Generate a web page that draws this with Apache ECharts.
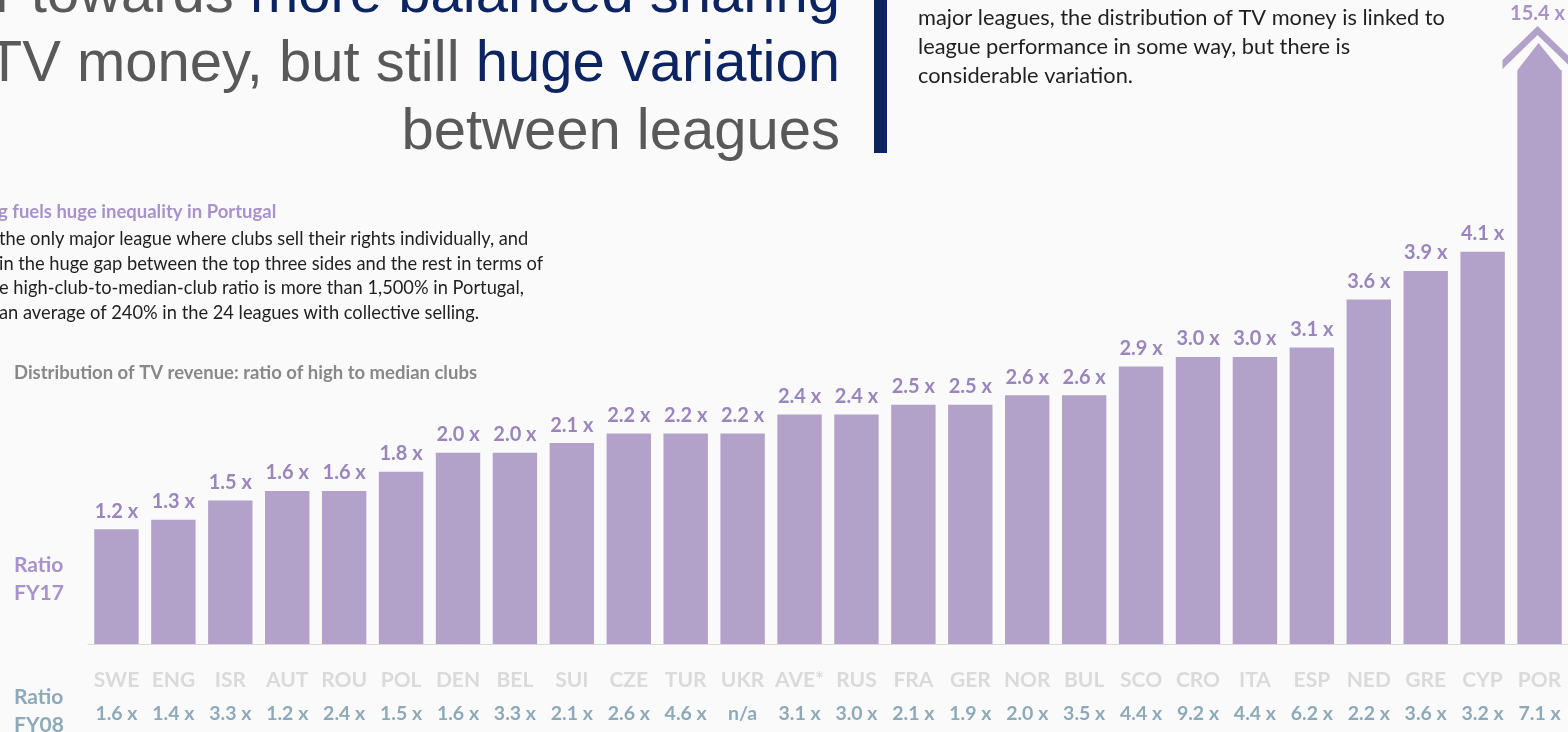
<!DOCTYPE html>
<html>
<head>
<meta charset="utf-8">
<script src="https://cdn.jsdelivr.net/npm/echarts@6/dist/echarts.min.js"></script>
<style>
html,body{margin:0;padding:0;background:#fafafa;}
#chart{width:1568px;height:732px;}
</style>
</head>
<body>
<div id="chart"></div>
<script>
// ---- data ----
const categories = ['SWE','ENG','ISR','AUT','ROU','POL','DEN','BEL','SUI','CZE','TUR','UKR','AVE*','RUS','FRA','GER','NOR','BUL','SCO','CRO','ITA','ESP','NED','GRE','CYP','POR'];
const ratioFY17 = [1.2,1.3,1.5,1.6,1.6,1.8,2.0,2.0,2.1,2.2,2.2,2.2,2.4,2.4,2.5,2.5,2.6,2.6,2.9,3.0,3.0,3.1,3.6,3.9,4.1,15.4];
const ratioFY08 = [1.6,1.4,3.3,1.2,2.4,1.5,1.6,3.3,2.1,2.6,4.6,null,3.1,3.0,2.1,1.9,2.0,3.5,4.4,9.2,4.4,6.2,2.2,3.6,3.2,7.1];
const axisMax = 6;

// ---- styles ----
const BAR = '#b2a1c8';
const BAR_LABEL = '#9a85bd';
const FY17_LABEL = '#a892c9';
const FY08_COLOR = '#8ea9b8';
const NAVY = '#0c2461';
const GREY_TITLE = '#595959';

const chart = echarts.init(document.getElementById('chart'), null, {renderer: 'canvas'});

const fmt = v => (v === null || v === undefined) ? 'n/a' : v.toFixed(1) + ' x';

const barData = ratioFY17.map(v => v > axisMax ? {value: v, label: {show: false}} : v);
const overIdx = ratioFY17.findIndex(v => v > axisMax);

// arrow: chevron + pointed bar top
const arrowPath = 'path://M0,34 L35,0 L70,34 L70,43 L35,9 L0,43 Z M15,44 L36,17 L58,44 Z';

const option = {
  backgroundColor: '#fafafa',
  animation: false,
  grid: {left: 88, right: 0, top: 70, bottom: 88, outerBoundsMode: 'none'},
  xAxis: {
    type: 'category',
    data: categories,
    axisLine: {show: true, onZero: false, lineStyle: {color: '#dadada', width: 1}},
    axisTick: {show: false},
    axisLabel: {
      margin: 19,
      interval: 0,
      formatter: (val, idx) => '{a|' + val + '}\n{b|' + fmt(ratioFY08[idx]) + '}',
      rich: {
        a: {fontFamily: 'Lato', fontWeight: 'bold', fontSize: 21, color: '#dadada', lineHeight: 34},
        b: {fontFamily: 'Lato', fontWeight: 'bold', fontSize: 19.5, color: FY08_COLOR, lineHeight: 34}
      }
    },
    splitLine: {show: false}
  },
  yAxis: {type: 'value', min: 0, max: axisMax, show: false},
  series: [{
    type: 'bar',
    data: barData,
    barCategoryGap: '22%',
    clip: true,
    itemStyle: {color: BAR},
    label: {
      show: true,
      position: 'top',
      distance: 8,
      formatter: p => fmt(p.value),
      fontFamily: 'Lato', fontWeight: 'bold', fontSize: 20, color: BAR_LABEL
    },
    markPoint: {
      silent: true,
      data: overIdx >= 0 ? [{
        coord: [categories[overIdx], axisMax],
        value: ratioFY17[overIdx]
      }] : [],
      symbol: arrowPath,
      symbolSize: [70, 44],
      symbolOffset: [-2, '-50%'],
      itemStyle: {color: BAR},
      label: {
        show: true,
        position: 'top',
        distance: 2,
        formatter: p => fmt(p.value),
        fontFamily: 'Lato', fontWeight: 'bold', fontSize: 20, color: FY17_LABEL
      }
    }
  }],
  graphic: [
    // title
    {type: 'text', x: 840, y: -33, style: {
      text: '{g|A move further towards }{b|more balanced sharing}',
      align: 'right', verticalAlign: 'top',
      rich: {g: {fontFamily: 'Liberation Sans', fontSize: 58, fill: GREY_TITLE}, b: {fontFamily: 'Liberation Sans', fontSize: 58, fill: NAVY}}
    }},
    {type: 'text', x: 840, y: 36, style: {
      text: '{g|of TV money, but still }{b|huge variation}',
      align: 'right', verticalAlign: 'top',
      rich: {g: {fontFamily: 'Liberation Sans', fontSize: 58, fill: GREY_TITLE}, b: {fontFamily: 'Liberation Sans', fontSize: 58, fill: NAVY}}
    }},
    {type: 'text', x: 840, y: 104, style: {
      text: 'between leagues', align: 'right', verticalAlign: 'top',
      fontFamily: 'Liberation Sans', fontSize: 58, fill: GREY_TITLE
    }},
    // navy divider
    {type: 'rect', shape: {x: 874, y: 0, width: 13, height: 153}, style: {fill: NAVY}},
    // right paragraph
    {type: 'text', x: 918, y: 3, style: {
      text: 'major leagues, the distribution of TV money is linked to\nleague performance in some way, but there is\nconsiderable variation.',
      fontFamily: 'Lato', fontSize: 21.8, lineHeight: 29, fill: '#1f1f1f', verticalAlign: 'top'
    }},
    // left note
    {type: 'text', x: -2, y: 203, style: {
      text: 'g fuels huge inequality in Portugal',
      fontFamily: 'Lato', fontWeight: 'bold', fontSize: 18.5, fill: FY17_LABEL, verticalAlign: 'top'
    }},
    {type: 'text', x: -1, y: 227, style: {
      text: 'the only major league where clubs sell their rights individually, and\nin the huge gap between the top three sides and the rest in terms of\ne high-club-to-median-club ratio is more than 1,500% in Portugal,\nan average of 240% in the 24 leagues with collective selling.',
      fontFamily: 'Lato', fontSize: 18.3, lineHeight: 24.5, fill: '#1f1f1f', verticalAlign: 'top'
    }},
    {type: 'text', x: 14, y: 364, style: {
      text: 'Distribution of TV revenue: ratio of high to median clubs',
      fontFamily: 'Lato', fontWeight: 'bold', fontSize: 18.5, fill: '#888888', verticalAlign: 'top'
    }},
    // row labels
    {type: 'text', x: 14, y: 551, style: {
      text: 'Ratio\nFY17', fontFamily: 'Lato', fontWeight: 'bold', fontSize: 21, lineHeight: 28, fill: FY17_LABEL, verticalAlign: 'top'
    }},
    {type: 'text', x: 14, y: 683, style: {
      text: 'Ratio\nFY08', fontFamily: 'Lato', fontWeight: 'bold', fontSize: 21, lineHeight: 28, fill: FY08_COLOR, verticalAlign: 'top'
    }}
  ]
};
chart.setOption(option);
</script>
</body>
</html>
